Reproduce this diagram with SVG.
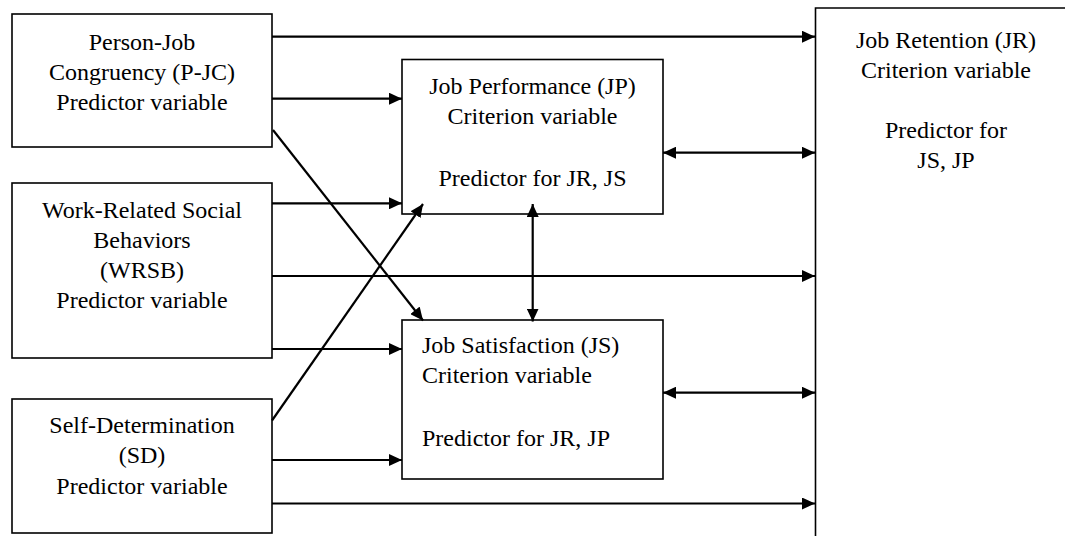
<svg xmlns="http://www.w3.org/2000/svg" width="1065" height="536" viewBox="0 0 1065 536">
<style>
.box{fill:#fff;stroke:#000;stroke-width:1.6}
text{font-family:'Liberation Serif','Times New Roman',serif;font-size:24px;fill:#000}
.c{text-anchor:middle}
.ln{fill:none;stroke:#000;stroke-width:2.2}
</style>
<defs>
<marker id="ah" markerUnits="userSpaceOnUse" markerWidth="14" markerHeight="12" refX="13" refY="6" orient="auto-start-reverse" viewBox="0 0 14 12">
<path d="M0,0 L13,6 L0,12 z" fill="#000"/>
</marker>
</defs>
<rect width="1065" height="536" fill="#fff"/>
<g id="n-pjc">
<rect class="box" x="12" y="14" width="260" height="133"/>
<text class="c" x="142" y="50">Person-Job</text>
<text class="c" x="142" y="80">Congruency (P-JC)</text>
<text class="c" x="142" y="110">Predictor variable</text>
</g>
<g id="n-wrsb">
<rect class="box" x="12" y="183" width="260" height="175"/>
<text class="c" x="142" y="218">Work-Related Social</text>
<text class="c" x="142" y="248">Behaviors</text>
<text class="c" x="142" y="278">(WRSB)</text>
<text class="c" x="142" y="308">Predictor variable</text>
</g>
<g id="n-sd">
<rect class="box" x="12" y="399" width="260" height="134"/>
<text class="c" x="142" y="433">Self-Determination</text>
<text class="c" x="142" y="463">(SD)</text>
<text class="c" x="142" y="494">Predictor variable</text>
</g>
<g id="n-jp">
<rect class="box" x="402" y="59.5" width="261" height="154.5"/>
<text class="c" x="532.5" y="94">Job Performance (JP)</text>
<text class="c" x="532.5" y="124">Criterion variable</text>
<text class="c" x="532.5" y="186">Predictor for JR, JS</text>
</g>
<g id="n-js">
<rect class="box" x="402" y="320" width="261" height="159"/>
<text x="422" y="353">Job Satisfaction (JS)</text>
<text x="422" y="383">Criterion variable</text>
<text x="422" y="446">Predictor for JR, JP</text>
</g>
<g id="n-jr">
<path class="box" d="M1066,8 H815.5 V536" fill="none"/>
<text class="c" x="946" y="48">Job Retention (JR)</text>
<text class="c" x="946" y="78">Criterion variable</text>
<text class="c" x="946" y="138">Predictor for</text>
<text class="c" x="946" y="168">JS, JP</text>
</g>
<g id="connectors">
<line class="ln" x1="272" y1="36.7" x2="815" y2="36.7" marker-end="url(#ah)"/>
<line class="ln" x1="272" y1="98.7" x2="402" y2="98.7" marker-end="url(#ah)"/>
<line class="ln" x1="273" y1="130" x2="423" y2="320.5" marker-end="url(#ah)"/>
<line class="ln" x1="272" y1="203.3" x2="402" y2="203.3" marker-end="url(#ah)"/>
<line class="ln" x1="272" y1="276" x2="815" y2="276" marker-end="url(#ah)"/>
<line class="ln" x1="272" y1="349" x2="402" y2="349" marker-end="url(#ah)"/>
<line class="ln" x1="272" y1="420.5" x2="423" y2="204" marker-end="url(#ah)"/>
<line class="ln" x1="272" y1="460" x2="402" y2="460" marker-end="url(#ah)"/>
<line class="ln" x1="272" y1="503.5" x2="815" y2="503.5" marker-end="url(#ah)"/>
<line class="ln" x1="663" y1="152.7" x2="815" y2="152.7" marker-start="url(#ah)" marker-end="url(#ah)"/>
<line class="ln" x1="663" y1="392.7" x2="815" y2="392.7" marker-start="url(#ah)" marker-end="url(#ah)"/>
<line class="ln" x1="532.7" y1="204" x2="532.7" y2="321.5" marker-start="url(#ah)" marker-end="url(#ah)"/>
</g>
</svg>
